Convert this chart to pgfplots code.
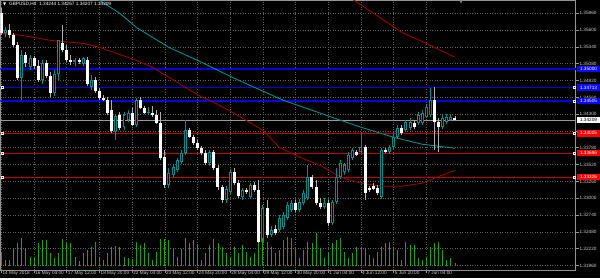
\documentclass[border=0pt]{standalone}
\usepackage{fontspec}
\setmainfont{Liberation Sans}
\newfontfamily\dejavu{DejaVu Sans}
\usepackage{pgfplots}
\usepackage{pgfplotstable}
\pgfplotsset{compat=1.18}
\definecolor{bullc}{RGB}{0,140,140}
\definecolor{bearwick}{RGB}{175,175,175}
\definecolor{maRed}{RGB}{150,0,0}
\definecolor{maTeal}{RGB}{0,140,140}
\definecolor{gridc}{RGB}{95,95,100}
\definecolor{lblc}{RGB}{205,205,205}
\definecolor{volc}{RGB}{30,160,30}
\definecolor{hlBlue}{RGB}{0,0,230}
\definecolor{hlRed}{RGB}{190,0,0}
\definecolor{boxBlue}{RGB}{10,10,255}
\definecolor{boxRed}{RGB}{255,0,0}
\newcommand\lbl{\fontsize{4.7bp}{5.5bp}\selectfont}

\pgfplotstableread{
i o h l c
0 1.35860 1.35937 1.35520 1.35551
1 1.35551 1.35644 1.35489 1.35597
2 1.35597 1.35690 1.35474 1.35520
3 1.35520 1.35551 1.35334 1.35365
4 1.35365 1.35412 1.34824 1.34855
5 1.34855 1.35288 1.34515 1.35211
6 1.35211 1.35257 1.35025 1.35087
7 1.35025 1.35211 1.34979 1.35164
8 1.35164 1.35195 1.34994 1.35041
9 1.35041 1.35134 1.34793 1.34824
10 1.34824 1.35134 1.34763 1.35087
11 1.35087 1.35134 1.34855 1.34886
12 1.34886 1.34948 1.34562 1.34623
13 1.34623 1.34979 1.34577 1.34917
14 1.34917 1.35443 1.34824 1.35443
15 1.35396 1.35675 1.35257 1.35288
16 1.35288 1.35365 1.35103 1.35134
17 1.35134 1.35211 1.35056 1.35103
18 1.35103 1.35164 1.35041 1.35134
19 1.35134 1.35164 1.35072 1.35103
20 1.35072 1.35180 1.35041 1.35164
21 1.35134 1.35180 1.34732 1.34763
22 1.34716 1.34902 1.34670 1.34824
23 1.34824 1.34871 1.34623 1.34654
24 1.34654 1.34701 1.34515 1.34546
25 1.34546 1.34592 1.34500 1.34515
26 1.34515 1.34562 1.34283 1.34314
27 1.34361 1.34515 1.34005 1.34036
28 1.34021 1.34283 1.33897 1.34268
29 1.34283 1.34330 1.34051 1.34082
30 1.34098 1.34330 1.34051 1.34283
31 1.34206 1.34361 1.34175 1.34314
32 1.34314 1.34392 1.34113 1.34129
33 1.34129 1.34546 1.34098 1.34515
34 1.34515 1.34562 1.34376 1.34392
35 1.34392 1.34422 1.34299 1.34314
36 1.34314 1.34407 1.34283 1.34330
37 1.34314 1.34422 1.34252 1.34283
38 1.34283 1.34361 1.34144 1.34160
39 1.34160 1.34330 1.33588 1.33619
40 1.33634 1.33742 1.33155 1.33201
41 1.33201 1.33464 1.33155 1.33387
42 1.33356 1.33510 1.33325 1.33480
43 1.33433 1.33619 1.33402 1.33588
44 1.33557 1.33742 1.33526 1.33696
45 1.33696 1.34206 1.33665 1.34051
46 1.34051 1.34082 1.33928 1.33943
47 1.33943 1.33974 1.33820 1.33851
48 1.33851 1.33897 1.33742 1.33773
49 1.33773 1.33804 1.33665 1.33696
50 1.33696 1.33742 1.33510 1.33541
51 1.33541 1.33742 1.33495 1.33711
52 1.33711 1.33742 1.33433 1.33464
53 1.33464 1.33510 1.33124 1.33170
54 1.33170 1.33201 1.32923 1.32969
55 1.32969 1.33186 1.32923 1.33139
56 1.33093 1.33433 1.33047 1.33402
57 1.33402 1.33464 1.33201 1.33232
58 1.33232 1.33279 1.33000 1.33031
59 1.33016 1.33155 1.32969 1.33124
60 1.33124 1.33155 1.33062 1.33093
61 1.33016 1.33232 1.32985 1.33201
62 1.33201 1.33248 1.33093 1.33124
63 1.33124 1.33279 1.32274 1.32320
64 1.32320 1.32892 1.32274 1.32846
65 1.32846 1.32969 1.32382 1.32428
66 1.32428 1.32567 1.32397 1.32506
67 1.32521 1.32583 1.32428 1.32459
68 1.32506 1.32738 1.32475 1.32691
69 1.32552 1.32784 1.32521 1.32738
70 1.32691 1.32938 1.32660 1.32892
71 1.32815 1.32969 1.32784 1.32923
72 1.32923 1.32969 1.32784 1.32815
73 1.32815 1.32985 1.32784 1.32938
74 1.32923 1.33124 1.32892 1.33078
75 1.33000 1.33510 1.32969 1.33325
76 1.33325 1.33356 1.33139 1.33170
77 1.33170 1.33279 1.32892 1.32923
78 1.32923 1.33000 1.32830 1.32861
79 1.32861 1.33000 1.32830 1.32923
80 1.32923 1.32969 1.32567 1.32614
81 1.32614 1.32969 1.32583 1.32938
82 1.32938 1.33464 1.32908 1.33325
83 1.33325 1.33588 1.33294 1.33541
84 1.33402 1.33541 1.33356 1.33510
85 1.33433 1.33711 1.33402 1.33665
86 1.33619 1.33773 1.33588 1.33742
87 1.33711 1.33742 1.33650 1.33665
88 1.33711 1.34005 1.33696 1.33789
89 1.33789 1.33820 1.32969 1.33078
90 1.33155 1.33186 1.33093 1.33124
91 1.33186 1.33232 1.33124 1.33139
92 1.33155 1.33201 1.33047 1.33078
93 1.33016 1.33773 1.32985 1.33742
94 1.33742 1.33773 1.33696 1.33711
95 1.33711 1.33820 1.33680 1.33789
96 1.33789 1.33974 1.33758 1.33943
97 1.33943 1.34129 1.33912 1.34082
98 1.34082 1.34129 1.33974 1.34005
99 1.34051 1.34206 1.34021 1.34175
100 1.34082 1.34237 1.34051 1.34175
101 1.34160 1.34206 1.34067 1.34098
102 1.34160 1.34330 1.34129 1.34283
103 1.34160 1.34361 1.34129 1.34314
104 1.34252 1.34453 1.34237 1.34407
105 1.34283 1.34701 1.34252 1.34515
106 1.34515 1.34716 1.33742 1.34175
107 1.34175 1.34237 1.33711 1.34098
108 1.34098 1.34283 1.34067 1.34237
109 1.34175 1.34299 1.34144 1.34252
110 1.34206 1.34283 1.34191 1.34252
111 1.34244 1.34267 1.34207 1.34209
}\candles

\pgfplotstableread{
i v
0 14
1 6
2 6
3 18
4 23
5 28
6 17
7 9
8 9
9 23
10 26
11 26
12 13
13 8
14 13
15 27
16 24
17 23
18 9
19 5
20 13
21 16
22 19
23 24
24 9
25 6
26 13
27 19
28 20
29 19
30 9
31 8
32 6
33 24
34 21
35 23
36 13
37 6
38 14
39 27
40 27
41 26
42 18
43 9
44 17
45 28
46 23
47 26
48 21
49 6
50 13
51 21
52 27
53 23
54 19
55 13
56 9
57 19
58 13
59 21
60 14
61 9
62 13
63 23
64 28
65 24
66 19
67 13
68 16
69 26
70 29
71 28
72 16
73 8
74 16
75 24
76 23
77 33
78 18
79 8
80 13
81 23
82 26
83 28
84 14
85 8
86 13
87 19
88 18
89 18
90 11
91 8
92 14
93 19
94 23
95 24
96 19
97 16
98 6
99 24
100 21
101 21
102 8
103 6
104 9
105 19
106 23
107 24
108 16
109 6
110 8
111 3
}\vols

\begin{document}
\begin{tikzpicture}
\fill[black] (0,0) rectangle (600bp,278bp);
\begin{axis}[
  at={(0bp,8bp)}, anchor=south west, scale only axis,
  width=576bp, height=270bp,
  xmin=-0.25, xmax=140.58, ymin=1.31887, ymax=1.36061,
  clip mode=individual,
  axis line style={draw=gray!85, line width=0.8bp},
  grid=major,
  grid style={gridc, dash pattern=on 1bp off 1.5bp, line width=0.6bp},
  xtick={0,8,...,104},
  xticklabels={14 May 2018,16 May 04:00,17 May 12:00,18 May 20:00,22 May 04:00,23 May 12:00,24 May 20:00,28 May 04:00,29 May 12:00,30 May 20:00,1 Jun 04:00,4 Jun 12:00,5 Jun 20:00,7 Jun 04:00},
  ytick={1.3196,1.3222,1.3248,1.3274,1.33,1.3326,1.3352,1.3378,1.3404,1.343,1.3456,1.3482,1.3508,1.3534,1.356,1.3586},
  yticklabels={1.31960,1.32220,1.32480,1.32740,1.33000,1.33260,1.33520,1.33780,{},1.34300,1.34560,1.34820,1.35080,1.35340,1.35600,1.35860},
  xtick pos=bottom, ytick pos=right, yticklabel pos=right,
  tick align=outside, major tick length=3bp,
  tick style={draw=gray!85, line width=0.6bp},
  xticklabel style={anchor=north west, text=lblc, font=\lbl, inner sep=0.5bp, xshift=0.5bp, yshift=2.5bp},
  yticklabel style={anchor=west, text=lblc, font=\lbl, inner sep=0.5bp},
]
% horizontal levels
\addplot[hlBlue, line width=1.6bp] coordinates {(-0.25,1.35000) (140.58,1.35000)};
\addplot[hlBlue, line width=0.9bp] coordinates {(-0.25,1.34713) (140.58,1.34713)};
\addplot[hlBlue, line width=1.6bp] coordinates {(-0.25,1.34505) (140.58,1.34505)};
\addplot[gray!80, line width=0.8bp] coordinates {(-0.25,1.34209) (140.58,1.34209)};
\addplot[hlRed, line width=0.9bp] coordinates {(-0.25,1.34005) (140.58,1.34005)};
\addplot[hlRed, line width=0.9bp] coordinates {(-0.25,1.33696) (140.58,1.33696)};
\addplot[hlRed, line width=0.9bp] coordinates {(-0.25,1.33326) (140.58,1.33326)};
% moving averages
\addplot[maRed, line width=0.9bp] coordinates {(0,1.35551) (5,1.35520) (12,1.35443) (20,1.35396) (24,1.35334) (33,1.35134) (37,1.35025) (41,1.34871) (49,1.34562) (51,1.34515) (57,1.34314) (64,1.34051) (68,1.33789) (73,1.33634) (78,1.33510) (83,1.33325) (88,1.33232) (93,1.33186) (98,1.33186) (103,1.33232) (106,1.33309) (111,1.33433)};
\addplot[maRed, line width=0.9bp] coordinates {(80,1.36339) (86,1.36076) (98,1.35566) (104,1.35396) (111,1.35180)};
\addplot[maTeal, line width=0.9bp] coordinates {(16,1.36386) (24,1.36061) (29,1.35860) (33,1.35644) (41,1.35334) (49,1.35103) (57,1.34855) (69,1.34515) (76,1.34361) (83,1.34206) (88,1.34098) (96,1.33943) (98,1.33912) (103,1.33835) (111,1.33773)};
% candles: wicks
\addplot[bearwick, line width=0.9bp, quiver={u=0,v=\thisrow{h}-\thisrow{l}}, restrict expr to domain={\thisrow{o}-\thisrow{c}}{0:1}] table[x=i,y=l]{\candles};
\addplot[bullc, line width=0.9bp, quiver={u=0,v=\thisrow{h}-\thisrow{l}}, restrict expr to domain={\thisrow{c}-\thisrow{o}}{0.000001:1}] table[x=i,y=l]{\candles};
% bodies
\addplot[white, line width=3bp, quiver={u=0,v=\thisrow{c}-\thisrow{o}}, restrict expr to domain={\thisrow{o}-\thisrow{c}}{0:1}] table[x=i,y=o]{\candles};
\addplot[bullc, line width=3bp, quiver={u=0,v=\thisrow{c}-\thisrow{o}}, restrict expr to domain={\thisrow{c}-\thisrow{o}}{0.000001:1}] table[x=i,y=o]{\candles};
\addplot[black, line width=1bp, quiver={u=0,v=\thisrow{c}-\thisrow{o}-0.0003}, restrict expr to domain={\thisrow{c}-\thisrow{o}}{0.00035:1}] table[x=i,y expr=\thisrow{o}+0.00015]{\candles};
% end markers of level lines
\addplot[only marks, mark=square*, mark size=1bp, draw=white, fill=hlBlue] coordinates {(0.3,1.34713) (140.2,1.34713) (140.2,1.34505)};
\addplot[only marks, mark=square*, mark size=1bp, draw=white, fill=hlRed] coordinates {(0.3,1.34005) (0.3,1.33696) (0.3,1.33326) (140.2,1.34005) (140.2,1.33696) (140.2,1.33326)};
% title and chart-shift marker
\node[anchor=north west, inner sep=0pt, text=white, font=\lbl] at (rel axis cs:0,1) [xshift=2.5bp, yshift=-2bp] {{\dejavu\fontsize{4bp}{5bp}\selectfont ▼}\hspace{3bp}GBPUSD,H4\hspace{3bp}1.34244 1.34267 1.34207 1.34209};
\node[anchor=north, inner sep=0pt, text=gray!90, font=\dejavu\fontsize{4bp}{4bp}\selectfont] at (axis cs:112.5,1.36061) {▼};
% price boxes
\node[anchor=west, fill=boxBlue, text=white, font=\lbl, inner sep=0pt, minimum width=23bp, minimum height=6.5bp] at (axis cs:140.58,1.35000) [xshift=1bp] {1.35000};
\node[anchor=west, fill=boxBlue, text=white, font=\lbl, inner sep=0pt, minimum width=23bp, minimum height=6.5bp] at (axis cs:140.58,1.34713) [xshift=1bp] {1.34713};
\node[anchor=west, fill=boxBlue, text=white, font=\lbl, inner sep=0pt, minimum width=23bp, minimum height=6.5bp] at (axis cs:140.58,1.34505) [xshift=1bp] {1.34505};
\node[anchor=west, fill=white, text=black, font=\lbl, inner sep=0pt, minimum width=23bp, minimum height=6.5bp] at (axis cs:140.58,1.34209) [xshift=1bp] {1.34209};
\node[anchor=west, fill=boxRed, text=white, font=\lbl, inner sep=0pt, minimum width=23bp, minimum height=6.5bp] at (axis cs:140.58,1.34005) [xshift=1bp] {1.34005};
\node[anchor=west, fill=boxRed, text=white, font=\lbl, inner sep=0pt, minimum width=23bp, minimum height=6.5bp] at (axis cs:140.58,1.33696) [xshift=1bp] {1.33696};
\node[anchor=west, fill=boxRed, text=white, font=\lbl, inner sep=0pt, minimum width=23bp, minimum height=6.5bp] at (axis cs:140.58,1.33326) [xshift=1bp] {1.33326};
\end{axis}
\begin{axis}[
  at={(0bp,8bp)}, anchor=south west, scale only axis,
  width=576bp, height=270bp,
  xmin=-0.25, xmax=140.58, ymin=-4, ymax=266,
  hide axis,
]
\addplot[ycomb, volc, line width=0.9bp, mark=none] table[x=i,y=v]{\vols};
\end{axis}
\end{tikzpicture}
\end{document}
